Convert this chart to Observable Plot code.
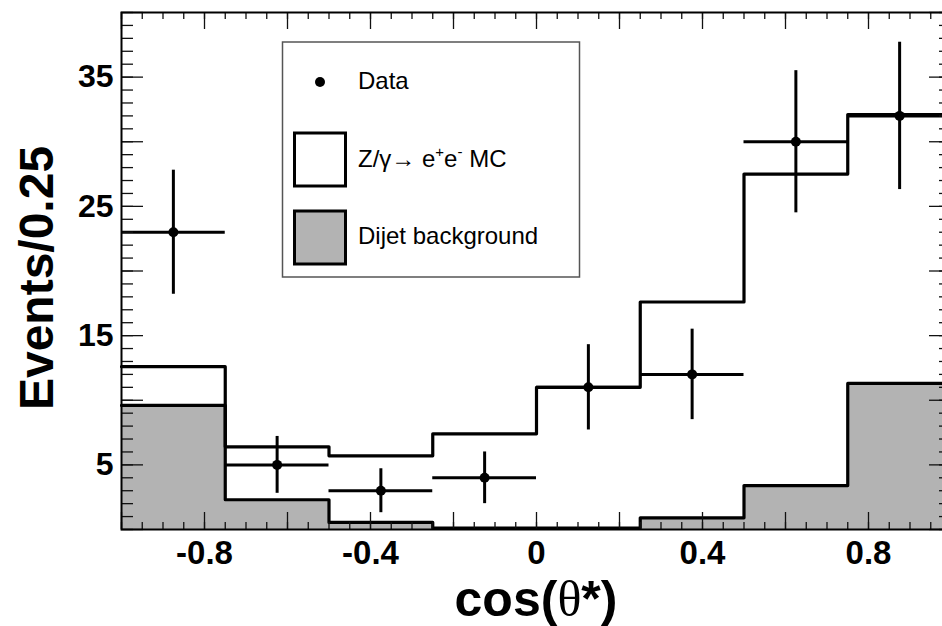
<!DOCTYPE html>
<html>
<head>
<meta charset="utf-8">
<script src="https://cdn.jsdelivr.net/npm/d3@7"></script>
<script src="https://cdn.jsdelivr.net/npm/@observablehq/plot@0.6"></script>
<style>
  html, body { margin: 0; padding: 0; background: white; }
  #chart { width: 942px; height: 626px; overflow: hidden; position: relative; }
</style>
</head>
<body>
<div id="chart"></div>
<script>
// ---- data ----
const binEdges = [-1, -0.75, -0.5, -0.25, 0, 0.25, 0.5, 0.75, 1];
const mcTotal  = [12.6, 6.4, 5.7, 7.4, 11.0, 17.6, 27.5, 32.1];   // Z/γ→ee MC (stacked on dijet)
const dijet    = [9.6, 2.3, 0.55, 0.1, 0.1, 0.9, 3.4, 11.3];      // dijet background
const dataX    = [-0.875, -0.625, -0.375, -0.125, 0.125, 0.375, 0.625, 0.875];
const dataY    = [23, 5, 3, 4, 11, 12, 30, 32];
const dataErr  = [4.8, 2.2, 1.7, 2.0, 3.3, 3.5, 5.5, 5.7];
const xTickLabels = [-0.8, -0.4, 0, 0.4, 0.8];
const yTickLabels = [5, 15, 25, 35];

const FONT = "'Liberation Sans', Arial, Helvetica, sans-serif";
const GRAY = "#b3b3b3";

// tables for the marks
const mcSteps = binEdges.map((e, i) => ({x: e, y: mcTotal[Math.min(i, mcTotal.length - 1)]}));
const djSteps = binEdges.map((e, i) => ({x: e, y: dijet[Math.min(i, dijet.length - 1)]}));
const points = dataX.map((x, i) => ({
  x, y: dataY[i], lo: binEdges[i], hi: binEdges[i + 1],
  y1: dataY[i] - dataErr[i], y2: dataY[i] + dataErr[i]
}));

// tick positions
const xMinor = d3.range(-20, 21).map(i => i / 20);
const xMajor = d3.range(-5, 6).map(i => i / 5);
const yMinor = d3.range(0, 41);
const yMajor = d3.range(0, 9).map(i => i * 5);

const W = 942, H = 626;
const mL = 121, mR = -9, mT = 12, mB = 97;
const plotW = W - mL - mR, plotH = H - mT - mB;

const tick = {stroke: "#111", strokeWidth: 1.3};

const svg = Plot.plot({
  width: W, height: H,
  marginLeft: mL, marginRight: mR, marginTop: mT, marginBottom: mB,
  style: {fontFamily: FONT, background: "white", overflow: "hidden"},
  x: {domain: [-1, 1], axis: null},
  y: {domain: [0, 40], axis: null},
  marks: [
    Plot.areaY(djSteps, {x: "x", y: "y", curve: "step-after", fill: GRAY}),
    Plot.line(mcSteps, {x: "x", y: "y", curve: "step-after", stroke: "black", strokeWidth: 3.2}),
    Plot.line(djSteps, {x: "x", y: "y", curve: "step-after", stroke: "black", strokeWidth: 3.2}),
    Plot.ruleY(points, {y: "y", x1: "lo", x2: "hi", stroke: "black", strokeWidth: 3}),
    Plot.ruleX(points, {x: "x", y1: "y1", y2: "y2", stroke: "black", strokeWidth: 3}),
    Plot.dot(points, {x: "x", y: "y", r: 5, fill: "black"}),
    // inward ticks: bottom / top
    Plot.ruleX(xMinor, {x: d => d, insetTop: plotH - 7, ...tick}),
    Plot.ruleX(xMajor, {x: d => d, insetTop: plotH - 17, ...tick}),
    Plot.ruleX(xMinor, {x: d => d, insetBottom: plotH - 7, ...tick}),
    Plot.ruleX(xMajor, {x: d => d, insetBottom: plotH - 17, ...tick}),
    // inward ticks: left / right
    Plot.ruleY(yMinor, {y: d => d, insetRight: plotW - 12, ...tick}),
    Plot.ruleY(yMajor, {y: d => d, insetRight: plotW - 22, ...tick}),
    Plot.ruleY(yMinor, {y: d => d, insetLeft: plotW - 12, ...tick}),
    Plot.ruleY(yMajor, {y: d => d, insetLeft: plotW - 22, ...tick}),
    Plot.frame({stroke: "black", strokeWidth: 2}),
    Plot.axisX(xTickLabels, {tickSize: 0, tickPadding: 11, tickFormat: d => String(d),
      fontSize: 33, fontWeight: "bold", fill: "black", label: null}),
    Plot.axisY(yTickLabels, {tickSize: 0, tickPadding: 8, tickFormat: d => String(d),
      fontSize: 32, fontWeight: "bold", fill: "black", label: null})
  ]
});

document.getElementById("chart").appendChild(svg);

// ---- axis titles ----
const s = d3.select(svg);
const xt = s.append("text")
  .attr("x", 536).attr("y", 616)
  .attr("text-anchor", "middle")
  .attr("font-family", FONT).attr("font-size", 50).attr("font-weight", "bold").attr("fill", "black");
xt.append("tspan").text("cos(");
xt.append("tspan").attr("font-family", "'Liberation Serif', 'DejaVu Serif', serif").attr("font-weight", "normal").text("θ");
xt.append("tspan").text("*)");

s.append("text")
  .attr("transform", "translate(53,278) rotate(-90)")
  .attr("text-anchor", "middle")
  .attr("font-family", FONT).attr("font-size", 48).attr("font-weight", "bold").attr("fill", "black")
  .text("Events/0.25");

// ---- legend ----
const lg = s.append("g").attr("font-family", FONT).attr("font-size", 24)
  .attr("fill", "black").attr("text-anchor", "start");
lg.append("rect").attr("x", 282.5).attr("y", 42).attr("width", 297).attr("height", 235)
  .attr("fill", "white").attr("stroke", "#555").attr("stroke-width", 1.5);
lg.append("circle").attr("cx", 320).attr("cy", 82).attr("r", 5).attr("fill", "black");
lg.append("text").attr("x", 358).attr("y", 89).text("Data");
lg.append("rect").attr("x", 294.5).attr("y", 133).attr("width", 51).attr("height", 53)
  .attr("fill", "white").attr("stroke", "black").attr("stroke-width", 3);
const zt = lg.append("text").attr("x", 358).attr("y", 167);
zt.append("tspan").text("Z/γ→ e");
zt.append("tspan").attr("font-size", 15).attr("dy", -10).text("+");
zt.append("tspan").attr("dy", 10).text("e");
zt.append("tspan").attr("font-size", 15).attr("dy", -10).text("-");
zt.append("tspan").attr("dy", 10).text(" MC");
lg.append("rect").attr("x", 294.5).attr("y", 211).attr("width", 51).attr("height", 53)
  .attr("fill", GRAY).attr("stroke", "black").attr("stroke-width", 3);
lg.append("text").attr("x", 358).attr("y", 244).text("Dijet background");
</script>
</body>
</html>
